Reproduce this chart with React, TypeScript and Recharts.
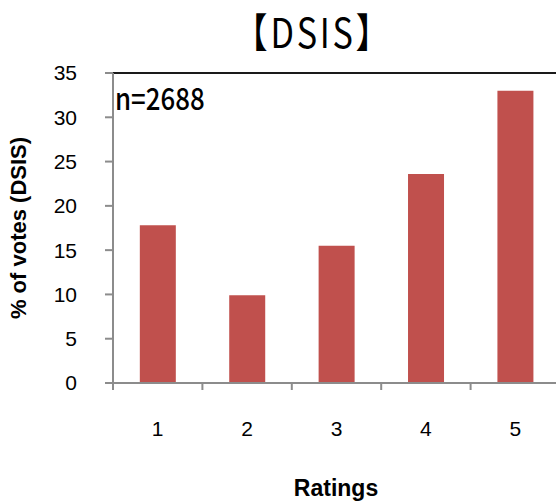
import React from 'react';
import { BarChart, Bar, XAxis, YAxis, ReferenceLine, Customized } from 'recharts';

// Rating categories and the share of votes each received
const ratings = ['1', '2', '3', '4', '5'];
const votePercent = [17.8, 9.9, 15.5, 23.6, 33.0];
const yTicks = [0, 5, 10, 15, 20, 25, 30, 35];

const titleText = '【DSIS】';
const sampleLabel = 'n=2688';
const yAxisTitle = '% of votes (DSIS)';
const xAxisTitle = 'Ratings';

const data = ratings.map((r, i) => ({ rating: r, pct: votePercent[i] }));

const SANS = '"Liberation Sans", Arial, sans-serif';
const CJK = '"Noto Sans CJK JP", "Noto Sans", sans-serif';
const AXIS_GREY = '#8c8c8c';

// Category tick: tick mark on the band's left boundary, label at band centre
const BandTick = (props: any) => {
  const { x, y, payload } = props;
  const left = x - (payload.offset ?? 0);
  return (
    <g>
      <line x1={left} y1={y} x2={left} y2={y + 7} stroke={AXIS_GREY} strokeWidth={2} />
      <text x={x} y={y + 53} textAnchor="middle" fontSize={21} fill="#000" fontFamily={SANS}>
        {payload.value}
      </text>
    </g>
  );
};

const Annotations = () => (
  <g>
    <g transform="translate(313 48) scale(0.9 1.07)">
      <text x={0} y={0} textAnchor="middle" fontSize={38} letterSpacing={3} fill="#000" fontFamily={CJK}>
        {titleText}
      </text>
    </g>
    <g transform="translate(115 110) scale(0.86 1)">
      <text x={0} y={0} fontSize={30} fill="#000" fontFamily={CJK} fontWeight={500}>
        {sampleLabel}
      </text>
    </g>
    <text
      x={26}
      y={228}
      textAnchor="middle"
      fontSize={22}
      fontWeight="bold"
      fill="#000"
      fontFamily={SANS}
      transform="rotate(-90 26 228)"
    >
      {yAxisTitle}
    </text>
    <text x={336} y={496} textAnchor="middle" fontSize={23} fontWeight="bold" fill="#000" fontFamily={SANS}>
      {xAxisTitle}
    </text>
  </g>
);

export default function App() {
  return (
    <div style={{ position: 'fixed', left: 0, top: 0, width: 556, height: 502, overflow: 'hidden', background: '#fff' }}>
      <BarChart
        width={560}
        height={502}
        data={data}
        margin={{ top: 73, right: 0, left: 0, bottom: 0 }}
        barCategoryGap="30%"
      >
        <XAxis
          dataKey="rating"
          height={119}
          tickSize={0}
          tickMargin={0}
          tickLine={false}
          axisLine={{ stroke: AXIS_GREY, strokeWidth: 2 }}
          tick={<BandTick />}
          interval={0}
        />
        <YAxis
          domain={[0, 35]}
          ticks={yTicks}
          interval={0}
          width={113}
          tickSize={8}
          tickMargin={28}
          axisLine={{ stroke: AXIS_GREY, strokeWidth: 2 }}
          tickLine={{ stroke: AXIS_GREY, strokeWidth: 2 }}
          tick={{ fill: '#000', fontSize: 21, fontFamily: SANS }}
        />
        <ReferenceLine y={35} stroke="#1a1a1a" strokeWidth={2} />
        <Bar dataKey="pct" fill="#C0504D" isAnimationActive={false} />
        <Customized component={Annotations} />
      </BarChart>
    </div>
  );
}
